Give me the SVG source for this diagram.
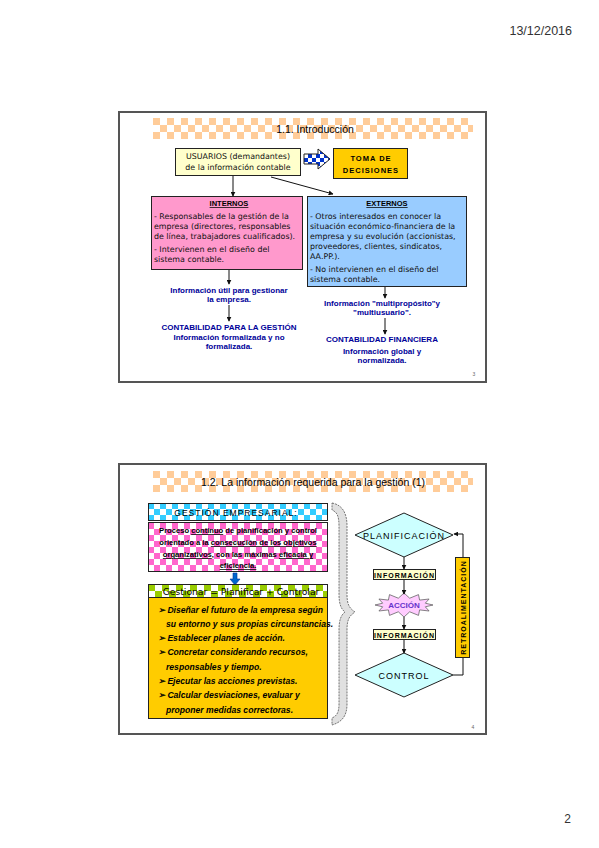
<svg xmlns="http://www.w3.org/2000/svg" width="599" height="848" viewBox="0 0 599 848">
<style>
text{font-family:"Liberation Sans",Arial,sans-serif;fill:#000}
.frame{fill:#fff;stroke:#555;stroke-width:2}
.box{stroke:#222;stroke-width:1}
.t8{font-family:"DejaVu Sans",sans-serif;font-size:7.9px;fill:#111}
.bl{fill:#000099;font-size:8px;font-weight:bold}
.cap{font-weight:bold;letter-spacing:1px}
.line{stroke:#111;stroke-width:1;fill:none}
.it{font-size:8.6px;font-style:italic;font-weight:bold}
</style>
<defs>
<pattern id="pOr" x="153" y="118" width="14" height="14" patternUnits="userSpaceOnUse"><rect width="14" height="14" fill="#fff"/><rect width="7" height="7" fill="#FFCC99"/><rect x="7" y="7" width="7" height="7" fill="#FFCC99"/></pattern>
<pattern id="pOr2" x="153" y="471" width="14" height="14" patternUnits="userSpaceOnUse"><rect width="14" height="14" fill="#fff"/><rect width="7" height="7" fill="#FFCC99"/><rect x="7" y="7" width="7" height="7" fill="#FFCC99"/></pattern>
<pattern id="pBl" x="148" y="503" width="12" height="12" patternUnits="userSpaceOnUse"><rect width="12" height="12" fill="#fff"/><rect width="6" height="6" fill="#33CCFF"/><rect x="6" y="6" width="6" height="6" fill="#33CCFF"/></pattern>
<pattern id="pPk" x="148" y="523" width="12" height="12" patternUnits="userSpaceOnUse"><rect width="12" height="12" fill="#fff"/><rect width="6" height="6" fill="#FF66CC"/><rect x="6" y="6" width="6" height="6" fill="#FF66CC"/></pattern>
<pattern id="pGr" x="148" y="584" width="14" height="14" patternUnits="userSpaceOnUse"><rect width="14" height="14" fill="#fff"/><rect width="7" height="7" fill="#99CC00"/><rect x="7" y="7" width="7" height="7" fill="#99CC00"/></pattern>
<pattern id="pDb" x="304" y="150" width="8" height="8" patternUnits="userSpaceOnUse"><rect width="8" height="8" fill="#fff"/><rect width="4" height="4" fill="#0033CC"/><rect x="4" y="4" width="4" height="4" fill="#0033CC"/></pattern>
<marker id="ah" viewBox="0 0 8 8" refX="7" refY="4" markerWidth="5" markerHeight="5" orient="auto"><path d="M0,0 L8,4 L0,8 Z" fill="#111"/></marker>
</defs>
<rect width="599" height="848" fill="#fff"/>
<text x="572" y="35" text-anchor="end" style="font-size:12.5px;fill:#333">13/12/2016</text>
<text x="571" y="823" text-anchor="end" style="font-size:12px;fill:#333">2</text>

<!-- SLIDE 1 -->
<g id="slide1">
<rect class="frame" x="119" y="112" width="367" height="270"/>
<rect x="153" y="118" width="320" height="21" fill="url(#pOr)"/>
<text x="315" y="133" text-anchor="middle" style="font-size:10.5px">1.1. Introducción</text>
<text x="474" y="376" text-anchor="middle" style="font-size:5px;fill:#666">3</text>
</g>
<g id="usuarios">
<rect class="box" x="175.5" y="148.5" width="125" height="27" fill="#FFFFCC"/>
<text class="t8" x="238" y="159" text-anchor="middle">USUARIOS (demandantes)</text>
<text class="t8" x="238" y="170" text-anchor="middle">de la información contable</text>
</g>
<g id="flecha">
<path d="M304,154 L318,154 L318,149 L330,159 L318,169 L318,164 L304,164 Z" fill="url(#pDb)" stroke="#222" stroke-width="1"/>
</g>
<g id="toma">
<rect class="box" x="333.5" y="148.5" width="74" height="30" fill="#FFCC00"/>
<text x="371" y="161" text-anchor="middle" class="cap" style="font-size:7.5px">TOMA DE</text>
<text x="371" y="173" text-anchor="middle" class="cap" style="font-size:7.5px">DECISIONES</text>
</g>
<g id="internos">
<rect class="box" x="151.5" y="196.5" width="151" height="73" fill="#FF99CC"/>
<text x="229" y="206" text-anchor="middle" style="font-size:7.5px;font-weight:bold;text-decoration:underline">INTERNOS</text>
<text class="t8" x="154" y="219">- Responsables de la gestión de la</text>
<text class="t8" x="154" y="229">empresa (directores, responsables</text>
<text class="t8" x="154" y="239">de línea, trabajadores cualificados).</text>
<text class="t8" x="154" y="252">- Intervienen en el diseño del</text>
<text class="t8" x="154" y="262">sistema contable.</text>
</g>
<g id="externos">
<rect class="box" x="307.5" y="196.5" width="159" height="90" fill="#99CCFF"/>
<text x="387" y="206" text-anchor="middle" style="font-size:7.5px;font-weight:bold;text-decoration:underline">EXTERNOS</text>
<text class="t8" x="310" y="219">- Otros interesados en conocer la</text>
<text class="t8" x="310" y="229">situación económico-financiera de la</text>
<text class="t8" x="310" y="239">empresa y su evolución (accionistas,</text>
<text class="t8" x="310" y="249">proveedores, clientes, sindicatos,</text>
<text class="t8" x="310" y="259">AA.PP.).</text>
<text class="t8" x="310" y="272">- No intervienen en el diseño del</text>
<text class="t8" x="310" y="282">sistema contable.</text>
</g>
<g id="info-gestion">
<text class="bl" x="229" y="293" text-anchor="middle">Información útil para gestionar</text>
<text class="bl" x="229" y="302" text-anchor="middle">la empresa.</text>
</g>
<g id="cont-gestion">
<text class="bl" x="229" y="330" text-anchor="middle">CONTABILIDAD PARA LA GESTIÓN</text>
<text class="bl" x="229" y="340" text-anchor="middle">Información formalizada y no</text>
<text class="bl" x="229" y="349" text-anchor="middle">formalizada.</text>
</g>
<g id="info-financiera">
<text class="bl" x="382" y="306" text-anchor="middle">Información "multipropósito"y</text>
<text class="bl" x="382" y="315" text-anchor="middle">"multiusuario".</text>
</g>
<g id="cont-financiera">
<text class="bl" x="382" y="342" text-anchor="middle">CONTABILIDAD FINANCIERA</text>
<text class="bl" x="382" y="354" text-anchor="middle">Información global y</text>
<text class="bl" x="382" y="363" text-anchor="middle">normalizada.</text>
</g>

<!-- SLIDE 2 -->
<g id="slide2">
<rect class="frame" x="119" y="464" width="367" height="270"/>
<rect x="153" y="471" width="320" height="21" fill="url(#pOr2)"/>
<text x="313" y="486" text-anchor="middle" style="font-size:10.5px">1.2. La información requerida para la gestión (1)</text>
<text x="473" y="729" text-anchor="middle" style="font-size:5px;fill:#666">4</text>
<path d="M332,503 C343,505 347,514 347,526 L347,594 C347,604 349,608 355,612 C349,616 347,620 347,630 L347,704 C347,716 342,722 332,725 L332,718 C337,716 339,712 339,704 L339,630 C339,620 341,615 345,612 C341,609 339,604 339,594 L339,526 C339,516 337,512 332,510 Z" fill="#E0E0E0" stroke="#555" stroke-width="0.8" stroke-dasharray="2,1"/>
</g>
<g id="gestion-empresarial">
<rect class="box" x="148.5" y="503.5" width="179" height="17" fill="url(#pBl)"/>
<text x="236" y="515.5" text-anchor="middle" style="font-size:8.5px;letter-spacing:1px">GESTIÓN EMPRESARIAL:</text>
</g>
<g id="proceso">
<rect class="box" x="148.5" y="522.5" width="179" height="49" fill="url(#pPk)"/>
<text x="238" y="533" text-anchor="middle" style="font-size:7.6px;font-weight:bold">Proceso <tspan text-decoration="underline">continuo</tspan> de planificación y control</text>
<text x="238" y="545" text-anchor="middle" style="font-size:7.6px;font-weight:bold">orientado a la <tspan text-decoration="underline">consecución de los objetivos</tspan></text>
<text x="238" y="557" text-anchor="middle" style="font-size:7.6px;font-weight:bold"><tspan text-decoration="underline">organizativos</tspan>, con las máximas <tspan text-decoration="underline">eficacia y</tspan></text>
<text x="238" y="568" text-anchor="middle" style="font-size:7.6px;font-weight:bold;text-decoration:underline">eficiencia.</text>
</g>
<g id="flecha-azul">
<path d="M233,573 L237,573 L237,579 L240,579 L235,585 L230,579 L233,579 Z" fill="#0066CC" stroke="#003399" stroke-width="0.6"/>
</g>
<g id="gestionar">
<rect class="box" x="148.5" y="584.5" width="179" height="13" fill="url(#pGr)"/>
<text x="241" y="594.5" text-anchor="middle" style="font-family:'DejaVu Sans',sans-serif;font-size:9.2px">Gestionar = Planificar + Controlar</text>
</g>
<g id="acciones">
<rect class="box" x="148.5" y="597.5" width="179" height="121" fill="#FFCC00"/>
<text class="it" x="158" y="613">➢ Diseñar el futuro de la empresa según</text>
<text class="it" x="166" y="627">su entorno y sus propias circunstancias.</text>
<text class="it" x="158" y="641">➢ Establecer planes de acción.</text>
<text class="it" x="158" y="655">➢ Concretar considerando recursos,</text>
<text class="it" x="166" y="670">responsables y tiempo.</text>
<text class="it" x="158" y="684">➢ Ejecutar las acciones previstas.</text>
<text class="it" x="158" y="698">➢ Calcular desviaciones, evaluar y</text>
<text class="it" x="166" y="713">proponer medidas correctoras.</text>
</g>
<g id="planificacion">
<path d="M404,513 L453,535 L404,557 L355,535 Z" fill="#CCFFFF" stroke="#222" stroke-width="1"/>
<text x="404" y="538.5" text-anchor="middle" style="font-size:9px;letter-spacing:1px">PLANIFICACIÓN</text>
</g>
<g id="informacion1">
<rect class="box" x="373.5" y="569.5" width="62" height="10" fill="#FFFFCC"/>
<text x="404.5" y="577.5" text-anchor="middle" class="cap" style="font-size:7px">INFORMACIÓN</text>
</g>
<g id="accion">
<path d="M433,605 L425.3,606.8 L429.1,611 L419.6,609.9 L418.5,615.4 L409.7,611.8 L404,617 L398.3,611.8 L389.5,615.4 L388.4,609.9 L378.9,611 L382.7,606.8 L375,605 L382.7,603.2 L378.9,599 L388.4,600.1 L389.5,594.6 L398.3,598.2 L404,593 L409.7,598.2 L418.5,594.6 L419.6,600.1 L429.1,599 L425.3,603.2 Z" fill="#FFCCFF" stroke="#666" stroke-width="0.8"/>
<text x="404" y="608" text-anchor="middle" style="font-size:8px;font-weight:bold;fill:#6633CC">ACCIÓN</text>
</g>
<g id="informacion2">
<rect class="box" x="373.5" y="629.5" width="62" height="10" fill="#FFFFCC"/>
<text x="404.5" y="637.5" text-anchor="middle" class="cap" style="font-size:7px">INFORMACIÓN</text>
</g>
<g id="control">
<path d="M404,653 L453,675 L404,697 L355,675 Z" fill="#CCFFFF" stroke="#222" stroke-width="1"/>
<text x="404" y="678.5" text-anchor="middle" style="font-size:9px;letter-spacing:1px">CONTROL</text>
</g>
<g id="retro">
<rect class="box" x="455.5" y="557.5" width="14" height="100" fill="#FFCC00"/>
<text transform="translate(465.5,607.5) rotate(-90)" text-anchor="middle" class="cap" style="font-size:7px">RETROALIMENTACIÓN</text>
</g>

<g id="connectors">
<line class="line" x1="233" y1="176" x2="233" y2="196" marker-end="url(#ah)"/>
<line class="line" x1="271" y1="177" x2="333" y2="194" marker-end="url(#ah)"/>
<line class="line" x1="229" y1="270" x2="229" y2="284" marker-end="url(#ah)"/>
<line class="line" x1="229" y1="305" x2="229" y2="321" stroke-width="1.6" marker-end="url(#ah)"/>
<line class="line" x1="385" y1="287" x2="385" y2="298" marker-end="url(#ah)"/>
<line class="line" x1="385" y1="318" x2="385" y2="334" stroke-width="1.6" marker-end="url(#ah)"/>
<line class="line" x1="404" y1="557" x2="404" y2="569" marker-end="url(#ah)"/>
<line class="line" x1="404" y1="580" x2="404" y2="594" marker-end="url(#ah)"/>
<line class="line" x1="404" y1="617" x2="404" y2="629" marker-end="url(#ah)"/>
<line class="line" x1="404" y1="640" x2="404" y2="653" marker-end="url(#ah)"/>
<polyline class="line" points="453,675 463,675 463,658"/>
<polyline class="line" points="463,557 463,534 454,534" marker-end="url(#ah)"/>
</g>
</svg>
